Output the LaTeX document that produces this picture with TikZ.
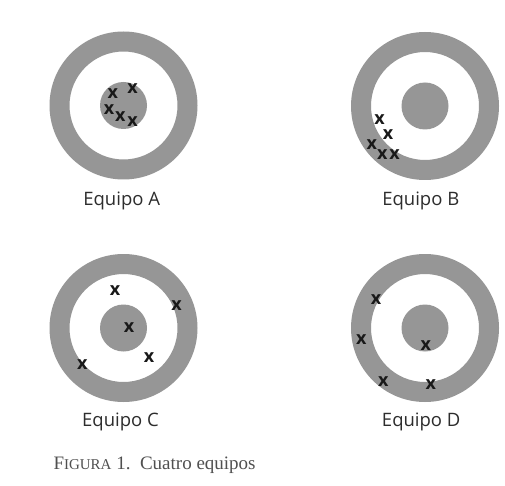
\documentclass[tikz,border=0pt]{standalone}
\usepackage{fontspec}
\newfontfamily\labelfont{Open Sans}
\newfontfamily\capfont{Liberation Serif}
\definecolor{ringgray}{RGB}{150,150,150}
\definecolor{labelgray}{RGB}{45,45,45}
\definecolor{markgray}{RGB}{25,25,25}
\definecolor{capgray}{RGB}{80,80,80}
\tikzset{
  ring/.style={fill=ringgray, even odd rule},
  bull/.style={fill=ringgray},
  hit/.style={text=markgray, font=\labelfont\bfseries\fontsize{18}{18}\selectfont, inner sep=0pt},
  teamlabel/.style={text=labelgray, font=\labelfont\fontsize{18.5}{20}\selectfont, inner sep=0pt, anchor=base},
  caption/.style={text=capgray, font=\capfont\fontsize{19}{21}\selectfont, inner sep=0pt, anchor=base west}
}
\begin{document}
\begin{tikzpicture}[x=1pt,y=-1pt]
\useasboundingbox[fill=white] (0,0) rectangle (505,486);
% targets
\foreach \cx/\cy/\nm in {123.5/105.5/A, 425/106/B, 123.5/328/C, 425/328/D}{
  \fill[ring] (\cx,\cy) circle[radius=74] (\cx,\cy) circle[radius=54];
  \fill[bull] (\cx,\cy) circle[radius=23.5];
}
% hits A
\node[hit] (a1) at (112.8,93.5) {x};
\node[hit] (a2) at (132.5,89) {x};
\node[hit] (a3) at (109.2,109.5) {x};
\node[hit] (a4) at (120.4,116.5) {x};
\node[hit] (a5) at (132.5,122) {x};
% hits B
\node[hit] (b1) at (379.6,120) {x};
\node[hit] (b2) at (388,135) {x};
\node[hit] (b3) at (371.7,145) {x};
\node[hit] (b4) at (382.2,155) {x};
\node[hit] (b5) at (394.5,155) {x};
% hits C
\node[hit] (c1) at (115,290.3) {x};
\node[hit] (c2) at (176.7,306) {x};
\node[hit] (c3) at (129,327.3) {x};
\node[hit] (c4) at (149,358) {x};
\node[hit] (c5) at (82.3,365) {x};
% hits D
\node[hit] (d1) at (376,300) {x};
\node[hit] (d2) at (361.4,339.3) {x};
\node[hit] (d3) at (425.7,346) {x};
\node[hit] (d4) at (383.3,381.3) {x};
\node[hit] (d5) at (430.8,385) {x};
% labels
\node[teamlabel] (la) at (121.7,205) {Equipo A};
\node[teamlabel] (lb) at (420.8,205) {Equipo B};
\node[teamlabel] (lc) at (120.5,426.5) {Equipo C};
\node[teamlabel] (ld) at (421.2,426) {Equipo D};
% caption
\node[caption] (cap) at (53.3,469) {F{\fontsize{15}{16}\selectfont IGURA} 1.\ \ Cuatro equipos};
\end{tikzpicture}
\end{document}
